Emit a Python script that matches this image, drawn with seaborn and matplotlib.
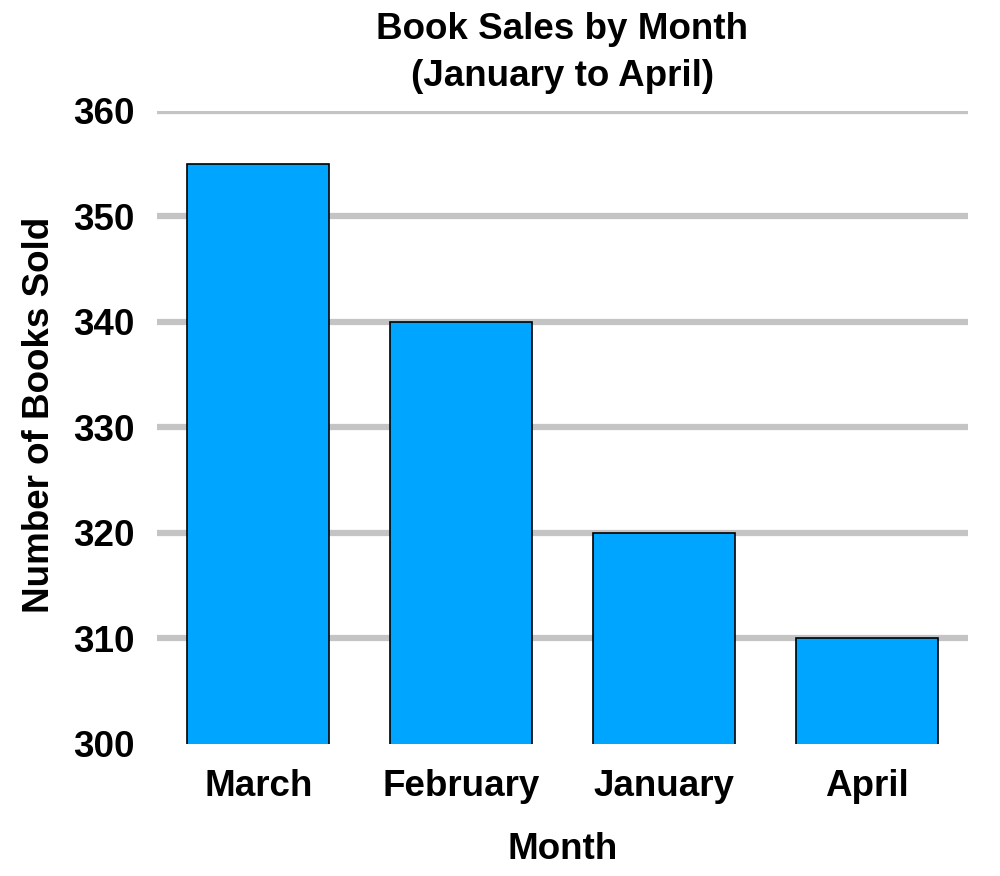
import matplotlib
matplotlib.use("Agg")
import matplotlib.pyplot as plt
import seaborn as sns
import pandas as pd

# data
months = ["March", "February", "January", "April"]
books_sold = [355, 340, 320, 310]
y_ticks = [300, 310, 320, 330, 340, 350, 360]

sns.set_style("white")
plt.rcParams['font.family'] = ['Liberation Sans', 'DejaVu Sans']
plt.rcParams['font.weight'] = 'bold'
plt.rcParams['text.color'] = 'black'
plt.rcParams['axes.labelcolor'] = 'black'
plt.rcParams['xtick.color'] = 'black'
plt.rcParams['ytick.color'] = 'black'

df = pd.DataFrame({"Month": months, "Books": books_sold})

fig = plt.figure(figsize=(10, 8.76), dpi=100)
ax = fig.add_axes([0.157, 0.1507, 0.811, 0.7226])

sns.barplot(data=df, x="Month", y="Books", order=months, color="#00A5FF",
            saturation=1, width=0.7, edgecolor="black", linewidth=1.2, ax=ax)

ax.set_ylim(300, 360)
ax.set_xlim(-0.5, 3.5)
ax.set_yticks(y_ticks)
ax.yaxis.grid(True, color="#C4C4C4", linewidth=4.5)
ax.get_ygridlines()[0].set_visible(False)
ax.set_axisbelow(True)
sns.despine(ax=ax, left=True, bottom=True)
ax.tick_params(axis="both", length=0, labelsize=26.5)
ax.tick_params(axis="x", pad=18)
ax.tick_params(axis="y", pad=16)

ax.set_xlabel("Month", fontsize=26.5, fontweight="bold", labelpad=20)
ax.set_ylabel("Number of Books Sold", fontsize=26.5, fontweight="bold",
              labelpad=12, y=0.52)
ax.set_title("Book Sales by Month\n(January to April)", fontsize=26.5,
             fontweight="bold", pad=18, linespacing=1.45)

fig.savefig("out.png", dpi=100)
